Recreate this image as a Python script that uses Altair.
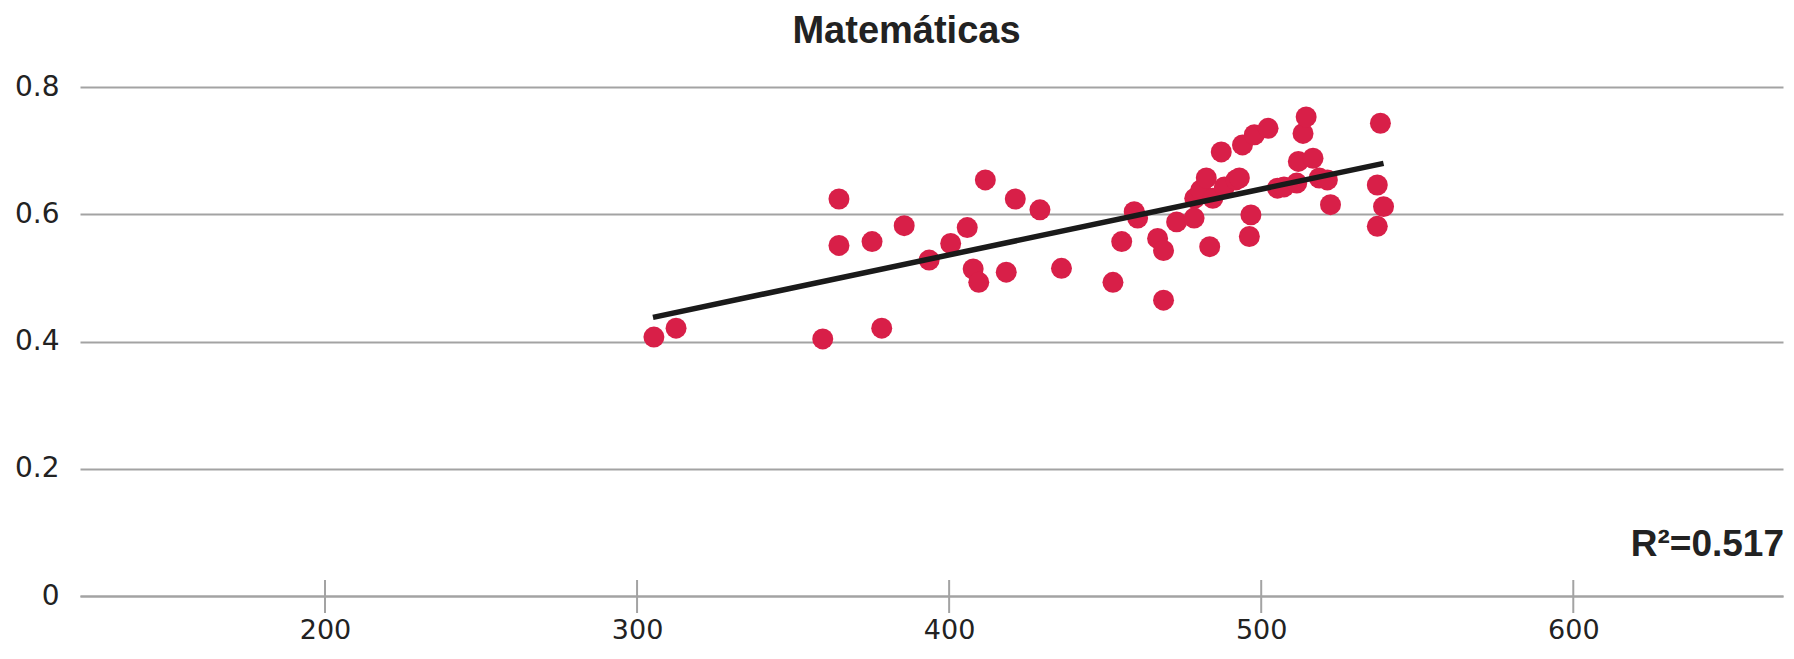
import altair as alt
import pandas as pd

# Puntaje promedio (eje X) e índice (eje Y) por país/entidad
puntaje = [305.4, 312.5, 359.5, 364.7, 364.7, 375.3, 378.4, 385.6, 393.6, 400.5,
           405.8, 407.7, 409.5, 411.6, 418.3, 421.2, 429.1, 436.0, 452.5, 455.3,
           459.3, 460.4, 466.8, 468.7, 468.7, 472.9, 478.5, 478.7, 480.6, 482.4,
           483.5, 484.5, 487.2, 488.2, 491.9, 493.0, 494.0, 496.2, 496.7, 497.8,
           502.2, 505.2, 507.3, 511.4, 511.9, 513.4, 514.4, 516.6, 518.6, 521.2,
           522.2, 537.2, 537.2, 538.2, 539.2]
indice = [0.407, 0.421, 0.404, 0.624, 0.551, 0.557, 0.421, 0.582, 0.528, 0.554,
          0.579, 0.514, 0.493, 0.654, 0.509, 0.624, 0.607, 0.515, 0.493, 0.557,
          0.604, 0.594, 0.562, 0.543, 0.465, 0.588, 0.594, 0.625, 0.638, 0.657,
          0.549, 0.625, 0.698, 0.643, 0.654, 0.657, 0.709, 0.565, 0.599, 0.725,
          0.735, 0.641, 0.643, 0.649, 0.683, 0.727, 0.753, 0.688, 0.657, 0.654,
          0.615, 0.646, 0.581, 0.743, 0.612]

# Recta de tendencia (extremos)
linea_x = [305.1, 539.2]
linea_y = [0.438, 0.680]

x_ticks = [200, 300, 400, 500, 600]
y_ticks = [0, 0.2, 0.4, 0.6, 0.8]
titulo = "Matemáticas"
r2_texto = "R²=0.517"

W, H = 1703, 509
GRID = "#a3a3a3"
TXT = "#222222"

xscale = alt.Scale(domain=[121.5, 667.2], nice=False, zero=False)
yscale = alt.Scale(domain=[0, 0.8], nice=False, zero=True)

pts = pd.DataFrame({"x": puntaje, "y": indice})
lin = pd.DataFrame({"x": linea_x, "y": linea_y})
tk = pd.DataFrame({"t": x_ticks})

points = alt.Chart(pts).mark_circle(size=440, color="#D81F48", opacity=1).encode(
    x=alt.X("x:Q", scale=xscale,
            axis=alt.Axis(values=x_ticks, title=None, grid=False, ticks=False, tickSize=0,
                          domain=True, domainColor=GRID, domainWidth=2,
                          labelFont="DejaVu Sans", labelFontSize=27, labelColor=TXT,
                          labelPadding=21, format="d")),
    y=alt.Y("y:Q", scale=yscale,
            axis=alt.Axis(values=y_ticks, title=None, grid=True, gridColor=GRID, gridWidth=2,
                          ticks=False, tickSize=0, domain=False,
                          labelFont="DejaVu Sans", labelFontSize=28, labelColor=TXT,
                          labelPadding=21, format="~g")),
)

ticks = alt.Chart(tk).mark_rule(color=GRID, strokeWidth=2).encode(
    x=alt.X("t:Q", scale=xscale),
    y=alt.value(H - 16),
    y2=alt.value(H + 17),
)

line = alt.Chart(lin).mark_line(color="#1a1a1a", strokeWidth=5.5).encode(
    x=alt.X("x:Q", scale=xscale),
    y=alt.Y("y:Q", scale=yscale),
)

title = alt.Chart(pd.DataFrame({"t": [titulo]})).mark_text(
    font="Liberation Sans", fontSize=38, fontWeight="bold", align="center",
    baseline="alphabetic", color=TXT
).encode(text="t:N", x=alt.value(826.5), y=alt.value(-44))

r2 = alt.Chart(pd.DataFrame({"t": [r2_texto]})).mark_text(
    font="Liberation Sans", fontSize=37, fontWeight="bold", align="right",
    baseline="alphabetic", color=TXT
).encode(text="t:N", x=alt.value(W + 1), y=alt.value(469))

chart = alt.layer(ticks, points, line, title, r2).properties(
    width=W, height=H,
    padding={"left": 72, "top": 79, "right": 2, "bottom": 52},
    autosize=alt.AutoSizeParams(type="none"),
).configure_view(stroke=None)

chart.save("out.html", embed_options={"renderer": "svg", "actions": False})
